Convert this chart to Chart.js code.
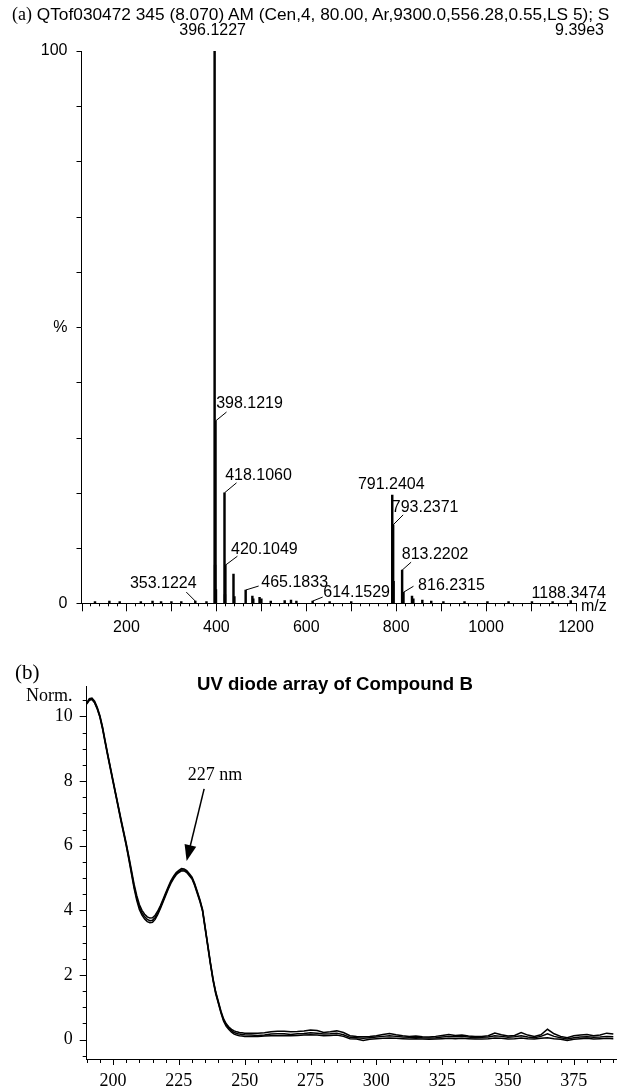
<!DOCTYPE html>
<html>
<head>
<meta charset="utf-8">
<script src="https://cdn.jsdelivr.net/npm/chart.js@4.4.1/dist/chart.umd.min.js"></script>
<style>
  body { margin: 0; background: #fff; }
  #page { position: relative; width: 617px; height: 1089px; overflow: hidden; background: #fff; }
  canvas { position: absolute; left: 0; }
  .txt { position: absolute; white-space: nowrap; line-height: 1; color: #000; }
  .sans { font-family: "Liberation Sans", Arial, sans-serif; }
  .serif { font-family: "Liberation Serif", "Times New Roman", serif; }
</style>
</head>
<body>
<div id="page">
  <canvas id="msChart" width="617" height="640" style="top:0"></canvas>
  <canvas id="uvChart" width="617" height="449" style="top:640px"></canvas>

  <!-- panel (a) header -->
  <div class="txt sans" style="left:12px; top:5px; font-size:17.3px"><span class="serif" style="font-size:18px">(a)</span> QTof030472 345 (8.070) AM (Cen,4, 80.00, Ar,9300.0,556.28,0.55,LS 5); S</div>
  <div class="txt sans" style="right:13px; top:22px; font-size:16px">9.39e3</div>
  <div class="txt sans" style="left:581px; top:598px; font-size:16px">m/z</div>

  <!-- panel (b) header -->
  <div class="txt serif" style="left:15px; top:662px; font-size:21px">(b)</div>
  <div class="txt sans" style="left:197px; top:675px; font-size:18.6px; font-weight:bold">UV diode array of Compound B</div>
  <div class="txt serif" style="left:26px; top:686px; font-size:18px">Norm.</div>
</div>

<script>
// ---------- (a) ESI mass spectrum: peaks (m/z, relative intensity %) ----------
const peakMz = [130, 162, 185, 232, 258, 277, 300, 322, 353.1224, 378,
  396.1227, 397.126, 398.1219, 399.125, 418.106, 419.109, 420.1049, 438.095, 440.092,
  465.1833, 480.1, 482.1, 496.1, 500.1, 521, 552, 566, 578, 614.1529, 652, 700,
  791.2404, 792.244, 793.2371, 794.24, 813.2202, 814.223, 816.2315, 835.2, 838.2,
  858.2, 878, 905, 952, 1003, 1050, 1102, 1148, 1188.3474];
const peakPct = [0.3, 0.4, 0.3, 0.3, 0.4, 0.3, 0.3, 0.3, 0.4, 0.3,
  100, 6.9, 33, 2.5, 20, 1.6, 6.9, 5.3, 1.2,
  2.4, 1.3, 0.8, 1.1, 0.8, 0.4, 0.5, 0.6, 0.4, 0.4, 0.3, 0.3,
  19.6, 9, 14.2, 4, 6, 2, 2, 1.3, 0.8,
  0.6, 0.4, 0.3, 0.3, 0.3, 0.3, 0.3, 0.3, 0.5];

// labelled peaks
const labelMz = [396.1227, 398.1219, 418.106, 420.1049, 353.1224, 465.1833,
  614.1529, 791.2404, 793.2371, 813.2202, 816.2315, 1188.3474];
// where each label sits (px): text centre dx, dy and leader end lx, ly from the peak top
const labelPlace = [
  [-2, -20, 0, 0], [34, -17, 11, -9], [34, -17, 12, -10], [39, -16, 12, -9],
  [-32, -17, -9, -9], [49, -7, 13, -4], [44, -8, 10, -4], [-1, -10, 0, 0],
  [32, -17, 10, -10], [33, -16, 9, -8], [48, -7, 10, -6], [-2, -7, 0, 0]
];

const msXLabels = [200, 400, 600, 800, 1000, 1200];

// ---------- (b) UV diode array: wavelength (nm) and three overlaid scans ----------
const uvNm = [190, 191, 192, 193, 194, 195, 196, 197, 198, 199,
  200, 201, 202, 203, 204, 205, 206, 207, 208, 209,
  210, 211, 212, 213, 214, 215, 216, 217, 218, 219,
  220, 221, 222, 223, 224, 225, 226, 227, 228, 229,
  230, 231, 232, 233, 234, 235, 236, 237, 238, 239,
  240, 241, 242, 243, 244, 245, 246, 247, 248, 249, 250,
  252.5, 255, 257.5, 260, 262.5, 265, 267.5, 270, 272.5, 275, 277.5, 280, 282.5, 285,
  287.5, 290, 292.5, 295, 297.5, 300, 302.5, 305, 307.5, 310, 312.5, 315, 317.5, 320,
  322.5, 325, 327.5, 330, 332.5, 335, 337.5, 340, 342.5, 345, 347.5, 350, 352.5, 355,
  357.5, 360, 362.5, 365, 367.5, 370, 372.5, 375, 377.5, 380, 382.5, 385, 387.5, 390];

const uvScanA = [10.40, 10.52, 10.54, 10.44, 10.25, 10.00, 9.65, 9.22, 8.80, 8.40,
  8.00, 7.60, 7.20, 6.80, 6.42, 6.04, 5.62, 5.18, 4.74, 4.38,
  4.10, 3.92, 3.80, 3.72, 3.68, 3.69, 3.78, 3.92, 4.10, 4.30,
  4.50, 4.70, 4.88, 5.02, 5.13, 5.20, 5.25, 5.25, 5.20, 5.10,
  5.00, 4.80, 4.55, 4.30, 4.00, 3.45, 2.90, 2.35, 1.85, 1.45,
  1.15, 0.85, 0.60, 0.45, 0.35, 0.28, 0.22, 0.19, 0.17, 0.16, 0.15,
  0.14, 0.13, 0.14, 0.17, 0.18, 0.18, 0.16, 0.18, 0.19, 0.21, 0.2, 0.17, 0.18, 0.2,
  0.15, 0.07, 0.06, 0.04, 0.06, 0.08, 0.1, 0.12, 0.1, 0.08, 0.07, 0.08, 0.06, 0.05,
  0.06, 0.08, 0.1, 0.09, 0.1, 0.08, 0.06, 0.07, 0.08, 0.12, 0.1, 0.07, 0.09, 0.12,
  0.08, 0.06, 0.1, 0.18, 0.1, 0.06, 0.02, 0.06, 0.08, 0.09, 0.07, 0.08, 0.1, 0.09];

const uvScanB = [10.42, 10.55, 10.57, 10.47, 10.28, 10.03, 9.68, 9.25, 8.83, 8.43,
  8.03, 7.63, 7.23, 6.84, 6.46, 6.08, 5.67, 5.24, 4.81, 4.46,
  4.18, 4.00, 3.88, 3.80, 3.76, 3.77, 3.85, 3.98, 4.15, 4.34,
  4.54, 4.74, 4.92, 5.06, 5.17, 5.24, 5.29, 5.28, 5.23, 5.13,
  5.03, 4.83, 4.58, 4.33, 4.03, 3.48, 2.93, 2.38, 1.88, 1.48,
  1.18, 0.88, 0.64, 0.49, 0.39, 0.32, 0.27, 0.24, 0.22, 0.21, 0.2,
  0.2, 0.2, 0.21, 0.24, 0.26, 0.26, 0.24, 0.25, 0.27, 0.3, 0.28, 0.22, 0.24, 0.27,
  0.22, 0.12, 0.1, 0.09, 0.1, 0.12, 0.16, 0.19, 0.15, 0.12, 0.1, 0.11, 0.09, 0.08,
  0.1, 0.13, 0.16, 0.13, 0.14, 0.11, 0.1, 0.1, 0.12, 0.2, 0.15, 0.11, 0.13, 0.22,
  0.14, 0.1, 0.15, 0.32, 0.18, 0.1, 0.06, 0.12, 0.14, 0.16, 0.12, 0.14, 0.2, 0.17];

const uvScanC = [10.38, 10.50, 10.52, 10.42, 10.23, 9.98, 9.62, 9.19, 8.77, 8.37,
  7.97, 7.57, 7.17, 6.77, 6.39, 6.00, 5.58, 5.13, 4.68, 4.31,
  4.03, 3.85, 3.73, 3.65, 3.62, 3.63, 3.72, 3.87, 4.06, 4.26,
  4.46, 4.66, 4.84, 4.98, 5.10, 5.17, 5.22, 5.22, 5.17, 5.07,
  4.97, 4.77, 4.52, 4.27, 3.97, 3.42, 2.87, 2.32, 1.82, 1.42,
  1.12, 0.82, 0.57, 0.41, 0.31, 0.23, 0.17, 0.14, 0.12, 0.11, 0.1,
  0.1, 0.1, 0.11, 0.12, 0.12, 0.13, 0.12, 0.13, 0.14, 0.15, 0.14, 0.12, 0.13, 0.14,
  0.1, 0.03, 0.02, -0.03, 0.01, 0.03, 0.04, 0.05, 0.04, 0.03, 0.02, 0.03, 0.02, 0.01,
  0.02, 0.03, 0.04, 0.03, 0.04, 0.03, 0.02, 0.02, 0.03, 0.05, 0.04, 0.02, 0.03, 0.05,
  0.03, 0.02, 0.04, 0.06, 0.03, 0.01, -0.03, 0.01, 0.03, 0.04, 0.02, 0.03, 0.04, 0.03];

const uvXLabels = [200, 225, 250, 275, 300, 325, 350, 375];
const uvYLabels = [0, 2, 4, 6, 8, 10];
const uvPeakNm = 227;

const SANS = '"Liberation Sans", Arial, sans-serif';
const SERIF = '"Liberation Serif", "Times New Roman", serif';

// draws minor/major tick marks on the outside of the axes
function tickMarks(specs) {
  return {
    id: 'tickMarks',
    afterDraw(chart) {
      const ctx = chart.ctx;
      ctx.save();
      ctx.strokeStyle = '#000';
      ctx.lineWidth = 1;
      ctx.beginPath();
      specs.forEach(s => {
        const sc = chart.scales[s.axis];
        const first = Math.ceil(sc.min / s.step - 1e-9);
        const last = Math.floor(sc.max / s.step + 1e-9);
        for (let i = first; i <= last; i++) {
          const v = i * s.step;
          const isMajor = Math.abs(v / s.major - Math.round(v / s.major)) < 1e-6;
          const len = isMajor ? s.majorLen : s.minorLen;
          const p = Math.round(sc.getPixelForValue(v)) + 0.5;
          if (sc.isHorizontal()) {
            ctx.moveTo(p, sc.top);
            ctx.lineTo(p, sc.top + len);
          } else {
            ctx.moveTo(sc.right, p);
            ctx.lineTo(sc.right - len, p);
          }
        }
      });
      ctx.stroke();
      ctx.restore();
    }
  };
}

// peak labels with their little leader lines
const msLabels = {
  id: 'msLabels',
  afterDatasetsDraw(chart) {
    const { ctx, scales: { x, y } } = chart;
    ctx.save();
    ctx.font = '16px ' + SANS;
    ctx.textAlign = 'center';
    ctx.textBaseline = 'middle';
    ctx.fillStyle = '#000';
    ctx.strokeStyle = '#000';
    ctx.lineWidth = 1;
    labelMz.forEach((mz, i) => {
      const pct = peakPct[peakMz.indexOf(mz)];
      const px = x.getPixelForValue(mz);
      const py = y.getPixelForValue(pct);
      const [dx, dy, lx, ly] = labelPlace[i];
      if (lx || ly) {
        ctx.beginPath();
        ctx.moveTo(px, py);
        ctx.lineTo(px + lx, py + ly);
        ctx.stroke();
      }
      ctx.fillText(mz.toFixed(4), px + dx, py + dy);
    });
    ctx.restore();
  }
};

// "227 nm" arrow pointing at the second band
const uvArrow = {
  id: 'uvArrow',
  afterDatasetsDraw(chart) {
    const { ctx, scales: { x, y } } = chart;
    const px = x.getPixelForValue(uvPeakNm);
    const py = y.getPixelForValue(uvScanA[uvNm.indexOf(uvPeakNm)]);
    const tip = [px + 2.5, py - 9];
    const tail = [px + 20, py - 81];
    const ang = Math.atan2(tip[1] - tail[1], tip[0] - tail[0]);
    ctx.save();
    ctx.strokeStyle = '#000';
    ctx.fillStyle = '#000';
    ctx.lineWidth = 1.5;
    ctx.beginPath();
    ctx.moveTo(tail[0], tail[1]);
    ctx.lineTo(tip[0] - 12 * Math.cos(ang), tip[1] - 12 * Math.sin(ang));
    ctx.stroke();
    ctx.beginPath();
    ctx.moveTo(tip[0], tip[1]);
    ctx.lineTo(tip[0] - 16 * Math.cos(ang) + 6 * Math.sin(ang), tip[1] - 16 * Math.sin(ang) - 6 * Math.cos(ang));
    ctx.lineTo(tip[0] - 16 * Math.cos(ang) - 6 * Math.sin(ang), tip[1] - 16 * Math.sin(ang) + 6 * Math.cos(ang));
    ctx.closePath();
    ctx.fill();
    ctx.font = '18px ' + SERIF;
    ctx.textAlign = 'center';
    ctx.textBaseline = 'middle';
    ctx.fillText(uvPeakNm + ' nm', px + 31, py - 95);
    ctx.restore();
  }
};

const hiddenGrid = { display: true, drawOnChartArea: false, color: 'rgba(0,0,0,0)' };
const blackBorder = { display: true, color: '#000', width: 1 };

// ---------- chart (a) ----------
new Chart(document.getElementById('msChart'), {
  type: 'bar',
  data: {
    datasets: [{
      data: peakMz.map((m, i) => ({ x: m, y: peakPct[i] })),
      backgroundColor: '#000',
      borderWidth: 0,
      barThickness: 1.8
    }]
  },
  options: {
    responsive: false,
    animation: false,
    layout: { padding: { top: 51, right: 41, left: 0, bottom: 0 } },
    plugins: { legend: { display: false }, tooltip: { enabled: false } },
    scales: {
      x: {
        type: 'linear', min: 100, max: 1200, offset: false,
        grid: { ...hiddenGrid, tickLength: 8 },
        border: blackBorder,
        ticks: {
          stepSize: 200, includeBounds: false, autoSkip: false, maxRotation: 0,
          padding: 7, color: '#000', font: { family: SANS, size: 16 },
          callback: v => msXLabels.includes(v) ? String(v) : ''
        },
        afterFit: s => { s.height = 640 - 603.3; }
      },
      y: {
        min: 0, max: 100,
        grid: { ...hiddenGrid, tickLength: 5 },
        border: blackBorder,
        ticks: {
          stepSize: 50, includeBounds: false, padding: 9,
          color: '#000', font: { family: SANS, size: 16 },
          callback: v => v === 100 ? '100' : v === 50 ? '%' : v === 0 ? '0' : ''
        },
        afterFit: s => { s.width = 81.5; }
      }
    }
  },
  plugins: [
    tickMarks([
      { axis: 'x', step: 20, major: 100, minorLen: 3, majorLen: 8 },
      { axis: 'y', step: 10, major: 10, minorLen: 5, majorLen: 5 }
    ]),
    msLabels
  ]
});

// ---------- chart (b) ----------
new Chart(document.getElementById('uvChart'), {
  type: 'line',
  data: {
    datasets: [uvScanB, uvScanC, uvScanA].map(scan => ({
      data: uvNm.map((n, i) => ({ x: n, y: scan[i] })),
      borderColor: '#000',
      borderWidth: 1.5,
      pointRadius: 0,
      tension: 0,
      fill: false
    }))
  },
  options: {
    responsive: false,
    animation: false,
    layout: { padding: { top: 46.7, right: 0, left: 0, bottom: 0 } },
    plugins: { legend: { display: false }, tooltip: { enabled: false } },
    scales: {
      x: {
        type: 'linear', min: 190, max: 391.4,
        grid: { ...hiddenGrid, tickLength: 6 },
        border: blackBorder,
        ticks: {
          stepSize: 25, includeBounds: false, autoSkip: false, maxRotation: 0,
          padding: 5, color: '#000', font: { family: SERIF, size: 18 },
          callback: v => uvXLabels.includes(v) ? String(v) : ''
        },
        afterFit: s => { s.height = 30; }
      },
      y: {
        min: -0.6, max: 10.92,
        grid: { ...hiddenGrid, tickLength: 7 },
        border: blackBorder,
        ticks: {
          stepSize: 2, includeBounds: false, padding: 7,
          color: '#000', font: { family: SERIF, size: 18 },
          callback: v => uvYLabels.includes(v) ? String(v) : ''
        },
        afterFit: s => { s.width = 86.7; }
      }
    }
  },
  plugins: [
    tickMarks([
      { axis: 'x', step: 5, major: 25, minorLen: 4, majorLen: 6 },
      { axis: 'y', step: 0.5, major: 2, minorLen: 4, majorLen: 7 }
    ]),
    uvArrow
  ]
});
</script>
</body>
</html>
